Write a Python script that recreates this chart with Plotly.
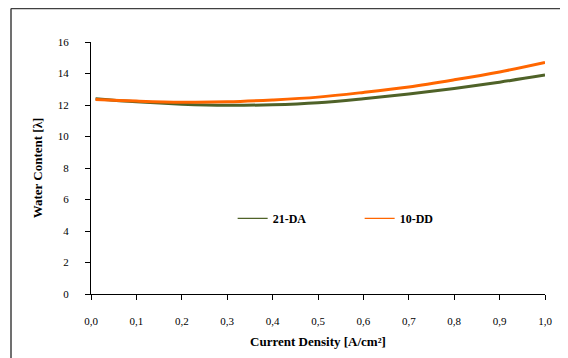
import plotly.graph_objects as go

current_density = [0.01, 0.1, 0.2, 0.3, 0.4, 0.5, 0.6, 0.7, 0.8, 0.9, 1.0]
wc_21da = [12.40, 12.20, 12.05, 11.98, 12.02, 12.15, 12.40, 12.70, 13.05, 13.45, 13.90]
wc_10dd = [12.35, 12.25, 12.18, 12.20, 12.32, 12.50, 12.80, 13.15, 13.60, 14.10, 14.70]
series_names = ["21-DA", "10-DD"]
series_colors = ["#4F6228", "#FF6600"]
x_ticks = [0.0, 0.1, 0.2, 0.3, 0.4, 0.5, 0.6, 0.7, 0.8, 0.9, 1.0]
y_ticks = [0, 2, 4, 6, 8, 10, 12, 14, 16]

serif = "Liberation Serif"

fig = go.Figure()
for name, vals, col in zip(series_names, [wc_21da, wc_10dd], series_colors):
    fig.add_trace(go.Scatter(x=current_density, y=vals, mode="lines", name=name,
                             showlegend=False,
                             line=dict(color=col, width=3, shape="spline")))
# thin legend entries
for name, col in zip(series_names, series_colors):
    fig.add_trace(go.Scatter(x=[None], y=[None], mode="lines", name=name,
                             line=dict(color=col, width=1.2)))

# page body has an 8px margin; figure sized to fit the 568x358 window
W, H = 560, 350
L, T = 91 - 8, 42 - 8
R = W - (545 - 8)
B = H - (294 - 8)

frame_x = (11 - 91) / 454
frame_y = (294 - 8.5) / 252

fig.update_layout(
    width=W, height=H,
    margin=dict(l=L, r=R, t=T, b=B, autoexpand=False),
    paper_bgcolor="white", plot_bgcolor="white",
    separators=",.",
    font=dict(family=serif, size=11, color="black"),
    showlegend=True,
    legend=dict(orientation="h", x=0.312, y=0.30, xanchor="left", yanchor="middle",
                font=dict(family=serif, size=12, color="black", weight="bold"),
                entrywidth=82, entrywidthmode="pixels",
                bgcolor="rgba(0,0,0,0)"),
    xaxis=dict(range=[0, 1.0], tickvals=x_ticks, tickformat=".1f",
               showgrid=False, zeroline=False, showline=True, linecolor="black", linewidth=1,
               ticks="outside", ticklen=5, tickcolor="black", ticklabelstandoff=12,
               tickfont=dict(family=serif, size=11),
               title=dict(text="Current Density [A/cm²]", standoff=10,
                          font=dict(family=serif, size=13, weight="bold"))),
    yaxis=dict(range=[0, 16], tickvals=y_ticks,
               showgrid=False, zeroline=False, showline=True, linecolor="black", linewidth=1,
               ticks="outside", ticklen=5, tickcolor="black", ticklabelstandoff=14,
               tickfont=dict(family=serif, size=11),
               title=dict(text="Water Content [λ]", standoff=12,
                          font=dict(family=serif, size=13, weight="bold"))),
    shapes=[
        dict(type="line", xref="paper", yref="paper", x0=frame_x, x1=1.2, y0=frame_y, y1=frame_y,
             line=dict(color="#404040", width=1.5), layer="below"),
        dict(type="line", xref="paper", yref="paper", x0=frame_x, x1=frame_x, y0=-0.4, y1=frame_y,
             line=dict(color="#404040", width=1.5), layer="below"),
    ],
)

fig.write_html("out.html")
